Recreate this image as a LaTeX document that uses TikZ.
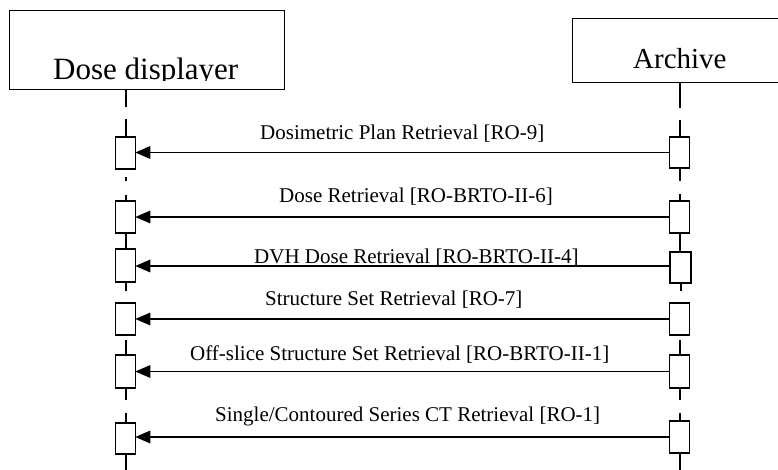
\documentclass[tikz,border=0pt]{standalone}
\usepackage{fontspec}
\setmainfont{Liberation Serif}
\usetikzlibrary{arrows.meta}
\begin{document}
\begin{tikzpicture}[x=1pt,y=-1pt,
  act/.style={draw, line width=1.1pt, fill=white, minimum width=19.5pt, minimum height=32pt, inner sep=0pt, outer sep=0pt},
  life/.style={line width=2pt},
  msg/.style={line width=1.5pt, -{Triangle[length=15pt,width=12.5pt]}},
  lbl/.style={font=\fontsize{21}{21}\selectfont, anchor=base west, inner sep=0pt},
  head/.style={draw, line width=1pt, fill=white, inner sep=0pt, outer sep=0pt, anchor=north west}]
\useasboundingbox (0,0) rectangle (778,470);
\clip (0,0) rectangle (778,470);
% header boxes
\node[head, minimum width=275pt, minimum height=79pt] (dd) at (9,11) {};
\node[head, minimum width=220pt, minimum height=64pt] (ar) at (572,19) {};
\begin{scope}
  \clip (9,11) rectangle (284,80.5);
  \node[font=\fontsize{31}{31}\selectfont, anchor=base west, inner sep=0pt] (ddt) at (53,80) {Dose displayer};
\end{scope}
\node[font=\fontsize{29}{29}\selectfont, anchor=base west, inner sep=0pt] (art) at (633,69) {Archive};
% activation boxes (positions)
\path
  (125.5,153) node[act] (l1) {}
  (125.5,217) node[act] (l2) {}
  (125.5,265.5) node[act, minimum height=33pt] (l3) {}
  (125.5,319) node[act] (l4) {}
  (125.5,371.5) node[act, minimum height=33pt] (l5) {}
  (125.5,438.5) node[act, minimum height=31pt] (l6) {}
  (679.5,152.5) node[act, minimum height=31pt] (r1) {}
  (679.5,217) node[act] (r2) {}
  (680.5,267.5) node[act, minimum width=21pt, minimum height=31pt] (r3) {}
  (679.5,319) node[act] (r4) {}
  (679.5,371.5) node[act, minimum height=33pt] (r5) {}
  (679.5,437) node[act] (r6) {};
% lifelines
\draw[life] (l1.north |- dd.south) -- ++(0,17);
\draw[life] (l1.north) -- ++(0,-18);
\draw[life] ([yshift=-8pt]l1.south) -- ++(0,4);
\draw[life] (l2.north) -- ++(0,-6);
\draw[life] (l2.south) -- (l3.north);
\draw[life] (l3.south) -- ++(0,9);
\draw[life] (l5.north) -- ++(0,-15);
\draw[life] (l5.south) -- ++(0,12);
\draw[life] (l6.north) -- ++(0,-10);
\draw[life] (l6.south) -- ++(0,20);
\draw[life] (r1.north |- ar.south) -- ++(0,25);
\draw[life] (r1.north) -- ++(0,-17);
\draw[life] (r1.south) -- ++(0,13);
\draw[life] (r2.north) -- ++(0,-7);
\draw[life] (r2.south) -- (r2.south |- r3.north);
\draw[life] (r3.south) -- ++(0,8);
\draw[life] (r5.north) -- ++(0,-15);
\draw[life] (r5.south) -- ++(0,12);
\draw[life] (r6.north) -- ++(0,-8);
\draw[life] (r6.south) -- ++(0,20);
% redraw boxes on top
\foreach \n in {l1,l2,l3,l4,l5,l6,r1,r2,r3,r4,r5,r6}
  \draw[line width=1.1pt, fill=white] (\n.north west) rectangle (\n.south east);
% labels
\node[lbl] (m1) at (260,140) {Dosimetric Plan Retrieval [RO-9]};
\node[lbl] (m2) at (279,203) {Dose Retrieval [RO-BRTO-II-6]};
\begin{scope}
  \clip (0,0) rectangle (778,264);
  \node[lbl] (m3) at (254,263) {DVH Dose Retrieval [RO-BRTO-II-4]};
\end{scope}
\node[lbl] (m4) at (265,305) {Structure Set Retrieval [RO-7]};
\node[lbl] (m5) at (190,360) {Off-slice Structure Set Retrieval [RO-BRTO-II-1]};
\node[lbl] (m6) at (215,421) {Single/Contoured Series CT Retrieval [RO-1]};
% messages
\draw[msg] (r1.west) -- (r1.west -| l1.east);
\draw[msg] (r2.west) -- (r2.west -| l2.east);
\draw[msg] (r3.west |- 0,266) -- (l3.east |- 0,266);
\draw[msg] (r4.west) -- (r4.west -| l4.east);
\draw[msg] (r5.west) -- (r5.west -| l5.east);
\draw[msg] (r6.west) -- (r6.west -| l6.east);
\end{tikzpicture}
\end{document}
